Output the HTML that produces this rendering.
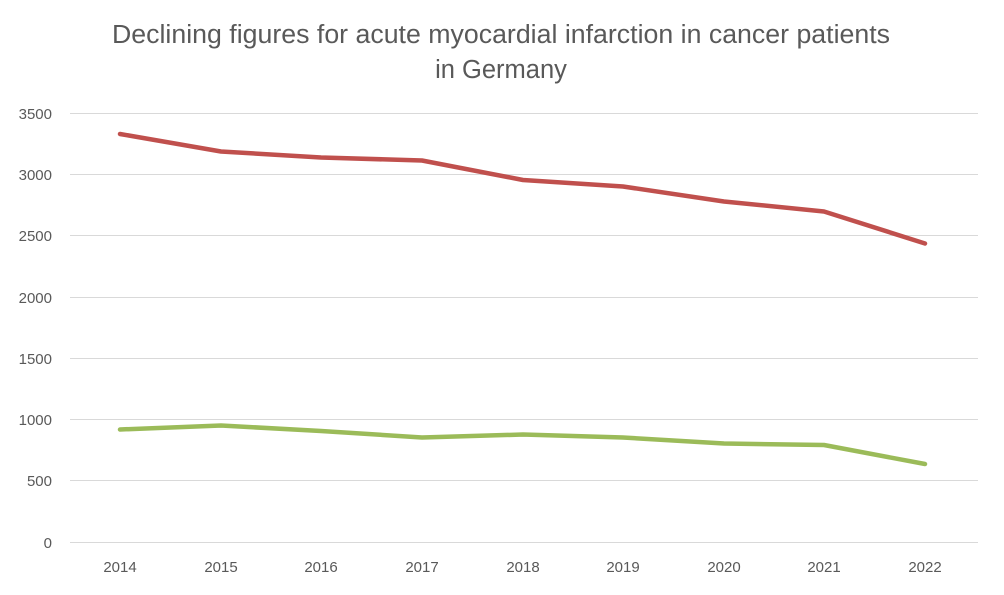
<!DOCTYPE html>
<html><head><meta charset="utf-8"><style>
body{margin:0;background:#fff}
svg text{font-family:"Liberation Sans",sans-serif;fill:#595959}
</style></head><body>
<svg width="1004" height="590" viewBox="0 0 1004 590" xmlns="http://www.w3.org/2000/svg">
<rect width="1004" height="590" fill="#fff"/>
<text x="501" y="43" font-size="25.5" text-anchor="middle" textLength="778" lengthAdjust="spacingAndGlyphs">Declining figures for acute myocardial infarction in cancer patients</text>
<text x="501" y="78" font-size="25.5" text-anchor="middle">in Germany</text>
<g stroke="#d9d9d9" stroke-width="1">
<line x1="70" x2="978" y1="113.5" y2="113.5"/>
<line x1="70" x2="978" y1="174.5" y2="174.5"/>
<line x1="70" x2="978" y1="235.5" y2="235.5"/>
<line x1="70" x2="978" y1="297.5" y2="297.5"/>
<line x1="70" x2="978" y1="358.5" y2="358.5"/>
<line x1="70" x2="978" y1="419.5" y2="419.5"/>
<line x1="70" x2="978" y1="480.5" y2="480.5"/>
<line x1="70" x2="978" y1="542.5" y2="542.5"/>
</g>
<g font-size="15" text-anchor="end">
<text x="52" y="119">3500</text><text x="52" y="180">3000</text><text x="52" y="241">2500</text>
<text x="52" y="303">2000</text><text x="52" y="364">1500</text><text x="52" y="425">1000</text>
<text x="52" y="486">500</text><text x="52" y="548">0</text>
</g>
<g font-size="15" text-anchor="middle">
<text x="120" y="572">2014</text><text x="221" y="572">2015</text><text x="321" y="572">2016</text>
<text x="422" y="572">2017</text><text x="523" y="572">2018</text><text x="623" y="572">2019</text>
<text x="724" y="572">2020</text><text x="824" y="572">2021</text><text x="925" y="572">2022</text>
</g>
<polyline fill="none" stroke="#c0504d" stroke-width="4.5" stroke-linejoin="round" stroke-linecap="round"
points="120,134 221,151.5 321,157.5 422,160.5 523,180 623,186.5 724,201.5 824,211.5 925,243.5"/>
<polyline fill="none" stroke="#9bbb59" stroke-width="4.5" stroke-linejoin="round" stroke-linecap="round"
points="120,429.5 221,425.5 321,431 422,437.5 523,434.5 623,437.5 724,443.5 824,445 925,464"/>
</svg>
</body></html>
